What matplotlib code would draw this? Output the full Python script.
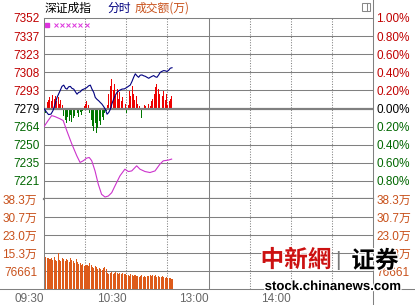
import matplotlib
matplotlib.use("Agg")
import matplotlib.pyplot as plt
import matplotlib.patheffects as pe
from matplotlib.patches import Rectangle
from matplotlib.lines import Line2D

plt.rcParams['font.family'] = ['Liberation Sans', 'Noto Sans CJK SC']

PREV_CLOSE = 7279.2

# index line (minutes since 09:30, value)
price_min = [0, 1.5, 3.3, 5.1, 6.6, 8, 9.5, 11.7, 13.1, 14.4, 15.7, 16.8, 17.9, 19.2,
             20.4, 21.7, 23, 24.1, 25.2, 26.5, 27.7, 29, 30.3, 31.4, 32.5, 33.8, 35,
             36.3, 37.4, 38.7, 39.9, 41, 42.3, 43.5, 44.7, 46, 47.2, 48.4, 49.6, 50.8,
             52, 53.2, 55, 56.9, 58.7, 60.5, 62, 62.9, 64.2, 65.4, 66.6, 67.8, 69,
             70.2, 71.5, 72.7, 73.9, 75.1, 76.4, 77.5, 78.8, 80, 81.2, 82.4, 83.7,
             84.8, 86.1, 87.3, 88.5, 89.7, 91, 92.1, 93.4]
price_val = [7279.2, 7276.8, 7274.3, 7274.7, 7277.6, 7282.4, 7288.1, 7293.4, 7297.0,
             7298.0, 7295.4, 7294.8, 7296.6, 7297.0, 7295.4, 7294.8, 7292.5, 7290.7,
             7292.1, 7292.6, 7294.2, 7294.8, 7295.4, 7296.2, 7297.4, 7298.0, 7294.8,
             7292.1, 7288.1, 7286.5, 7285.4, 7284.1, 7282.7, 7280.8, 7278.6, 7274.6,
             7276.0, 7278.6, 7283.2, 7286.7, 7289.7, 7292.1, 7293.8, 7294.8, 7295.0,
             7296.2, 7297.4, 7298.0, 7301.0, 7304.3, 7307.1, 7305.5, 7304.3, 7306.0,
             7306.2, 7305.5, 7305.1, 7304.3, 7303.5, 7304.3, 7305.1, 7305.7, 7304.7,
             7304.3, 7306.3, 7308.3, 7309.1, 7309.7, 7309.5, 7309.0, 7310.0, 7311.6,
             7312.0]

# pink line
avg_min = [0, 3, 5.6, 8, 11.7, 14, 16.6, 20.2, 23.9, 26.3, 28.7, 31.1, 33, 34.8, 37.2,
           39.6, 42, 44.5, 46.9, 49.4, 51.8, 55.4, 59, 61.5, 64, 67.6, 70, 73.7, 77.3,
           81, 84.6, 87, 90.7, 93.1]
avg_val = [7264.6, 7269.5, 7273.5, 7272.7, 7270.9, 7269.5, 7261.4, 7250.9, 7241.2,
           7235.8, 7237.2, 7239.3, 7239.8, 7237.2, 7229.1, 7218.3, 7210.2, 7208.0,
           7208.8, 7211.5, 7217.0, 7225.0, 7230.4, 7228.5, 7229.0, 7233.1, 7230.4,
           7228.5, 7227.7, 7229.0, 7234.5, 7237.1, 7237.7, 7238.5]

# red / green bars per minute (index points around prev close)
flow = [-6, -4, 5, 7, 9, 6, 11, 8, 10, 6, 9, 4, 7, 3,
        -6, -9, -12, -7, -10, -5, -11, -8, -6, -10, -4, -7, -3, -5, -2,
        2, 4, 6, 3,
        -4, -9, -14, -18, -12, -20, -16, -10, -13, -7, -9, -4, -2,
        3, 12, 18, 24, 15, 20, 10, 16, 8, 13, 6, 9, 11, 4, -4, 3, 14, 10, 18, 12,
        7, 10, 4, 2, 0, -8, 0, 3, 2, -1, 4, 2, 6, 8,
        12, 17, 20, 16, 12, 18, 10, 14, 7, 12, 3, 6, 8, 10]

# turnover per minute, in 万
volume = [35.4,
          13.5, 13.0, 13.3, 12.6, 13.1,
          12.5, 13.6, 12.2, 11.8,
          15.4,
          12.4, 12.0, 13.1, 12.6, 11.9, 12.8, 12.2, 11.5, 13.0, 12.3,
          11.8, 11.0, 12.6, 11.4, 10.8, 11.2, 10.2, 10.6, 9.8, 10.4,
          10.1, 9.6, 10.9, 10.3, 9.4, 9.0, 9.7, 9.2, 8.4, 8.9,
          8.6, 8.0, 8.8, 9.4, 8.5,
          7.0, 6.6, 6.9, 7.2, 6.5, 6.8, 7.1, 6.7, 6.3, 6.9, 6.6, 6.8, 6.2, 6.5, 6.0,
          6.1, 5.6, 6.3, 5.8, 5.5, 5.9, 5.4, 5.7, 5.2, 5.6, 5.8, 5.3, 5.5, 5.1, 5.4,
          5.6, 5.9, 5.7, 6.0, 5.5, 5.8, 5.3, 5.6, 5.2, 4.9, 5.4, 5.0, 4.8, 5.2, 4.7,
          4.5, 4.6, 4.3]

mark_min = [2.5, 8.5, 13, 17.7, 22, 26.5, 31.7]

price_labels = ["7352", "7337", "7323", "7308", "7293", "7279", "7264", "7250", "7235", "7221"]
pct_labels = ["1.00%", "0.80%", "0.60%", "0.40%", "0.20%", "0.00%", "0.20%", "0.40%", "0.60%", "0.80%"]
vol_unit = 7.6661
vol_labels = ["76661", "15.3万", "23.0万", "30.7万", "38.3万"]
time_pos = [0, 60, 120, 180]
time_labels = ["09:30", "10:30", "13:00", "14:00"]

RED = "#C00000"
GREEN = "#006600"
ORANGE = "#C8501A"
GRID = "#808080"

W, H = 415, 305
fig = plt.figure(figsize=(W / 100, H / 100), dpi=100)
L, R = 44, 373
ax = fig.add_axes([L / W, 1 - 199 / H, (R - L) / W, (199 - 18) / H])
vax = fig.add_axes([L / W, 1 - 289 / H, (R - L) / W, (289 - 199) / H])

step = PREV_CLOSE * 0.002
ks = list(range(5, -5, -1))
ticks = [PREV_CLOSE + k * step for k in ks]
tick_colors = [RED if k > 0 else ("black" if k == 0 else GREEN) for k in ks]

for a in (ax, vax):
    a.set_xlim(0, 240)
    for s in a.spines.values():
        s.set_color(GRID)
        s.set_linewidth(0.75)
    a.spines['right'].set_visible(False)
    for m in (30, 60, 90, 150, 180, 210):
        a.axvline(m, color=GRID, lw=0.75, ls=(0, (1, 1.5)), zorder=1)
    a.axvline(120, color=GRID, lw=0.75, zorder=1)

# price panel
ax.set_ylim(PREV_CLOSE - 5 * step, PREV_CLOSE + 5 * step)
for k, t in zip(ks, ticks):
    if k == 5:
        continue
    ax.axhline(t, color=GRID, lw=1.6 if k == 0 else 0.75, zorder=2.5 if k == 0 else 1)
ax.spines['bottom'].set_linewidth(1.6)

ax.bar(range(len(flow)), flow, bottom=PREV_CLOSE, width=0.7, align='edge',
       color=[("#EE0000" if v > 0 else "#007700") for v in flow], lw=0, zorder=2)
ax.plot(avg_min, avg_val, color="#CC33CC", lw=0.8, zorder=3)
ax.plot(price_min, price_val, color="#000080", lw=0.8, zorder=3)
ax.plot(mark_min[:1], [0.961], marker='s', ms=2.5, color="#DD33DD", ls='none',
        transform=ax.get_xaxis_transform(), clip_on=False)
ax.plot(mark_min[1:], [0.961] * (len(mark_min) - 1), marker='x', ms=2.5, mew=0.7,
        color="#DD33DD", ls='none', transform=ax.get_xaxis_transform(), clip_on=False)

ax.set_xticks([])
ax.set_yticks(ticks)
ax.set_yticklabels(price_labels, fontsize=8.5)
ax.tick_params(axis='y', length=0, pad=3)
for lab, c in zip(ax.get_yticklabels(), tick_colors):
    lab.set_color(c)

ax2 = ax.twinx()
ax2.set_ylim(ax.get_ylim())
ax2.set_yticks(ticks)
ax2.set_yticklabels(pct_labels, fontsize=8.5)
ax2.tick_params(axis='y', length=0, pad=2.5)
for lab, c in zip(ax2.get_yticklabels(), tick_colors):
    lab.set_color(c)
for s in ax2.spines.values():
    s.set_visible(False)

# volume panel
vax.set_ylim(0, vol_unit * 5)
vticks = [vol_unit * k for k in range(1, 6)]
for t in vticks[:-1]:
    vax.axhline(t, color=GRID, lw=0.75, zorder=1)
vax.spines['top'].set_visible(False)
vax.spines['bottom'].set_visible(False)
vax.bar(range(len(volume)), volume, width=0.75, align='edge', color="#DD5A1A", lw=0, zorder=2)
vax.set_yticks(vticks)
vax.set_yticklabels(vol_labels, fontsize=8.5, color=ORANGE)
vax.tick_params(axis='y', length=0, pad=5)
vax.set_xticks(time_pos)
vax.set_xticklabels(time_labels, fontsize=8.5, color="#666666")
vax.tick_params(axis='x', length=0, pad=3)
for lab in vax.get_xticklabels():
    lab.set_ha('right')
vax2 = vax.twinx()
vax2.set_ylim(vax.get_ylim())
vax2.set_yticks(vticks)
vax2.set_yticklabels(vol_labels, fontsize=8.5, color=ORANGE)
vax2.tick_params(axis='y', length=0, pad=2.5)
for s in vax2.spines.values():
    s.set_visible(False)

# frame lines outside the panels
fig.add_artist(Line2D([R / W, R / W], [0, 1], color=GRID, lw=0.75))
fig.add_artist(Line2D([0, 1], [1 - 288.5 / H, 1 - 288.5 / H], color=GRID, lw=0.75))
fig.add_artist(Rectangle((362 / W, 1 - 11 / H), 8 / W, 8 / H, fill=False, ec="#888888", lw=0.75))
fig.add_artist(Line2D([366.5 / W, 366.5 / W], [1 - 11 / H, 1 - 3 / H], color="#888888", lw=0.75))

# header
cjk = ['Noto Sans CJK SC', 'DejaVu Sans']
fig.text(45 / W, 1 - 8 / H, "深证成指", family=cjk, fontsize=8.5, color="black", va='center')
fig.text(107 / W, 1 - 8 / H, "分时", family=cjk, fontsize=8.5, color="#000080", va='center')
fig.text(135 / W, 1 - 8 / H, "成交额(万)", family=cjk, fontsize=8.5, color=ORANGE, va='center')

# watermark
halo = [pe.withStroke(linewidth=2, foreground="white")]
fig.text(296 / W, 1 - 260 / H, "中新網", family=['Noto Sans CJK TC'], fontsize=17,
         fontweight='bold', color="#CC1111", ha='center', va='center', path_effects=halo)
fig.text(338 / W, 1 - 260 / H, "|", fontsize=15, color="#777777", ha='center', va='center')
fig.text(375 / W, 1 - 261 / H, "证券", family=cjk, fontsize=17, fontweight='bold',
         color="black", ha='center', va='center', path_effects=halo)
fig.text(333 / W, 1 - 287 / H, "stock.chinanews.com", family=['Liberation Sans'], fontsize=9.5,
         fontweight='bold', color="black", ha='center', va='center', path_effects=halo)

fig.savefig("out.png", dpi=100, facecolor="white")
